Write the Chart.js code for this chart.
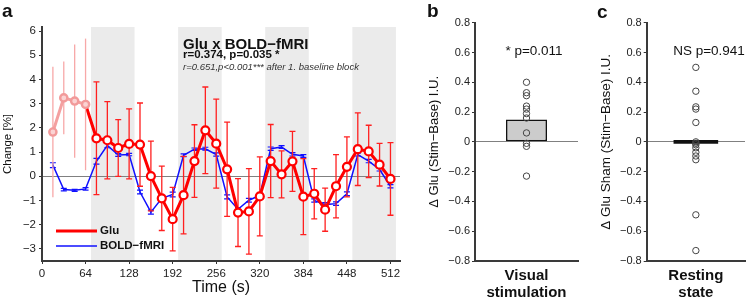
<!DOCTYPE html>
<html>
<head>
<meta charset="utf-8">
<script src="https://cdn.jsdelivr.net/npm/chart.js@4.4.0/dist/chart.umd.min.js"></script>
<style>
  body { margin: 0; background: #fff; width: 750px; height: 299px; overflow: hidden; position: relative; }
  canvas { position: absolute; top: 0; }
</style>
</head>
<body>
<canvas id="ca" width="415" height="299" style="left:0px"></canvas>
<canvas id="cb" width="170" height="299" style="left:415px"></canvas>
<canvas id="cc" width="165" height="299" style="left:585px"></canvas>
<script>
// panel a: time course, Glu (MRS) and BOLD-fMRI
const time = [16, 32, 48, 64, 80, 96, 112, 128, 144, 160, 176, 192, 208, 224, 240, 256,
              272, 288, 304, 320, 336, 352, 368, 384, 400, 416, 432, 448, 464, 480, 496, 512];
const glu = [1.83, 3.24, 3.11, 2.97, 1.57, 1.49, 1.17, 1.34, 1.31, 0.01, -0.91, -1.77, -0.78, 0.63, 1.90, 1.35,
             0.29, -1.50, -1.45, -0.83, 0.63, 0.08, 0.62, -0.84, -0.72, -1.38, -0.41, 0.39, 1.12, 1.03, 0.48, -0.11];
const gluErr = [2.70, 1.50, 2.34, 2.72, 2.33, 1.60, 1.17, 1.45, 1.72, 1.44, 1.33, 1.31, 1.60, 1.50, 1.79, 1.84,
                1.95, 1.40, 1.77, 1.63, 1.51, 0.97, 1.24, 1.57, 1.04, 0.89, 1.31, 1.24, 1.50, 1.08, 0.88, 1.50];
const bold = [0.46, -0.55, -0.58, -0.52, 0.62, 1.28, 0.88, 0.90, -0.65, -1.48, -0.91, -0.75, 0.87, 1.12, 1.14, 0.90,
              -0.85, -1.36, -0.99, -0.79, 1.14, 1.21, 0.91, 0.84, -1.00, -1.17, -1.13, -0.72, 0.90, 0.63, 0.28, -0.41];
const boldErr = [0.10, 0.05, 0.04, 0.05, 0.12, 0.10, 0.06, 0.05, 0.08, 0.08, 0.07, 0.10, 0.06, 0.05, 0.06, 0.07,
                 0.08, 0.07, 0.08, 0.08, 0.07, 0.06, 0.07, 0.06, 0.07, 0.08, 0.07, 0.08, 0.06, 0.07, 0.06, 0.07];
const stimBlocks = [[72, 136], [200, 264], [328, 392], [456, 520]];
const nBaseline = 4; // first baseline block, drawn light

// panel b / c: single-subject differences
const bLabel = 'Visual stimulation';
const bVals = [0.40, 0.33, 0.31, 0.24, 0.22, 0.19, 0.16, 0.06, -0.01, -0.03, -0.23];
const bMean = 0.15;
const cLabel = 'Resting state';
const cVals = [0.50, 0.34, 0.235, 0.22, 0.13, 0.0, -0.01, -0.02, -0.04, -0.07, -0.095, -0.12, -0.49, -0.73];
const cMean = 0.0;

const FONT = "'Liberation Sans', Arial, Helvetica, sans-serif";
Chart.defaults.font.family = FONT;
Chart.defaults.color = '#222';
Chart.defaults.animation = false;

const pts = (from, to) => time.slice(from, to).map((t, i) => ({ x: t, y: glu[from + i] }));

// error bars drawn just before each dataset's line
const errBars = {
  id: 'errBars',
  beforeDatasetDraw(chart, args) {
    const ds = chart.data.datasets[args.index];
    if (!ds.err) return;
    const { ctx, scales: { x, y } } = chart;
    ctx.save();
    ctx.strokeStyle = ds.errColor;
    ctx.lineWidth = ds.errWidth;
    ds.data.forEach((p, i) => {
      const e = ds.err[i];
      if (e == null) return;
      const px = x.getPixelForValue(p.x);
      const y1 = y.getPixelForValue(p.y + e), y2 = y.getPixelForValue(p.y - e);
      ctx.beginPath();
      ctx.moveTo(px, y1); ctx.lineTo(px, y2);
      if (ds.cap) {
        ctx.moveTo(px - ds.cap, y1); ctx.lineTo(px + ds.cap, y1);
        ctx.moveTo(px - ds.cap, y2); ctx.lineTo(px + ds.cap, y2);
      }
      ctx.stroke();
    });
    ctx.restore();
  }
};

// grey stimulation blocks
const bands = {
  id: 'bands',
  beforeDraw(chart) {
    const { ctx, chartArea: a, scales: { x } } = chart;
    ctx.save();
    ctx.fillStyle = '#ebebeb';
    stimBlocks.forEach(([s, e]) => {
      const x1 = x.getPixelForValue(s), x2 = Math.min(x.getPixelForValue(e), a.right);
      ctx.fillRect(x1, a.top, x2 - x1, a.bottom - a.top);
    });
    ctx.restore();
  }
};

const textA = {
  id: 'textA',
  afterDraw(chart) {
    const ctx = chart.ctx;
    ctx.save();
    ctx.fillStyle = '#111';
    ctx.textBaseline = 'alphabetic';
    ctx.font = 'bold 19px ' + FONT;
    ctx.fillText('a', 2, 17);
    ctx.font = 'bold 15px ' + FONT;
    ctx.fillText('Glu x BOLD\u2212fMRI', 183, 49);
    ctx.font = 'bold 11.5px ' + FONT;
    ctx.fillText('r=0.374, p=0.035 *', 183, 57.5);
    ctx.font = 'italic 9.5px ' + FONT;
    ctx.fillStyle = '#333';
    ctx.fillText('r=0.651,p<0.001*** after 1. baseline block', 183, 70);
    // legend
    ctx.lineCap = 'butt';
    ctx.strokeStyle = '#ff0000'; ctx.lineWidth = 3;
    ctx.beginPath(); ctx.moveTo(56, 231); ctx.lineTo(97, 231); ctx.stroke();
    ctx.strokeStyle = '#1010ff'; ctx.lineWidth = 1.5;
    ctx.beginPath(); ctx.moveTo(56, 246); ctx.lineTo(97, 246); ctx.stroke();
    ctx.fillStyle = '#111';
    ctx.font = 'bold 11.5px ' + FONT;
    ctx.textBaseline = 'middle';
    ctx.fillText('Glu', 100, 231);
    ctx.fillText('BOLD\u2212fMRI', 100, 246);
    ctx.restore();
  }
};

const zeroGrid = c => Math.abs(c.tick.value) < 1e-9 ? '#808080' : 'rgba(0,0,0,0)';
const fmtA = v => v < 0 ? '\u2212' + (-v) : String(v);
const fmtB = v => Math.abs(v) < 1e-9 ? '0' : (v < 0 ? '\u2212' : '') + Math.abs(v).toFixed(1);

new Chart(document.getElementById('ca'), {
  type: 'line',
  data: {
    datasets: [
      {
        label: 'Glu baseline', data: pts(0, nBaseline), order: -1,
        borderColor: '#f4a0a0', borderWidth: 3,
        pointRadius: 3.6, pointBorderWidth: 2.4, pointBorderColor: '#f29a9a', pointBackgroundColor: '#fbd3d3',
        err: gluErr.slice(0, nBaseline), errColor: '#f7a8a8', errWidth: 1.3, cap: 0
      },
      {
        label: 'Glu', data: pts(nBaseline - 1), order: 0,
        borderColor: '#ff0000', borderWidth: 3,
        pointRadius: c => c.dataIndex === 0 ? 0 : 4, pointBorderWidth: 2.2,
        pointBorderColor: '#ff0000', pointBackgroundColor: '#ffffff',
        err: [null].concat(gluErr.slice(nBaseline)), errColor: '#ff2020', errWidth: 1.3, cap: 3
      },
      {
        label: 'BOLD\u2212fMRI', data: time.map((t, i) => ({ x: t, y: bold[i] })), order: 1,
        borderColor: '#1010ff', borderWidth: 1.5, pointRadius: 0,
        err: boldErr, errColor: '#1010ff', errWidth: 1.2, cap: 3
      }
    ]
  },
  options: {
    responsive: false,
    layout: { padding: { left: 0, right: 15, top: 27, bottom: 0 } },
    plugins: { legend: { display: false }, tooltip: { enabled: false } },
    scales: {
      x: {
        type: 'linear', min: 0, max: 526,
        ticks: { stepSize: 64, includeBounds: false, maxRotation: 0, padding: 3, font: { size: 11.5 } },
        grid: { drawOnChartArea: false, tickLength: 3, color: '#333' },
        border: { display: true, color: '#3a3a3a', width: 2 },
        title: { display: true, text: 'Time (s)', color: '#111', font: { size: 16 }, padding: { top: 0, bottom: 2 } },
        afterFit: s => { s.height = 38; }
      },
      y: {
        min: -3.5, max: 6.17,
        ticks: { stepSize: 1, includeBounds: false, padding: 3, font: { size: 11.5 }, callback: fmtA },
        grid: { color: zeroGrid, tickColor: '#333', tickLength: 3, lineWidth: 1 },
        border: { display: true, color: '#3a3a3a', width: 2 },
        title: { display: true, text: 'Change [%]', color: '#111', font: { size: 11.5 }, padding: { top: 1.4, bottom: 0 } },
        afterFit: s => { s.width = 42; }
      }
    }
  },
  plugins: [bands, errBars, textA]
});

function dotPanel(id, label, vals, mean, opts) {
  const labelPlugin = {
    id: 'lbl' + id,
    afterDraw(chart) {
      const ctx = chart.ctx;
      ctx.save();
      ctx.fillStyle = '#111';
      ctx.font = 'bold 19px ' + FONT;
      ctx.textBaseline = 'alphabetic';
      ctx.fillText(opts.letter, 12, opts.letterY);
      ctx.font = '13.5px ' + FONT;
      ctx.textAlign = 'center';
      ctx.fillText(opts.pText, opts.pX, 55);
      ctx.restore();
    }
  };
  const barDs = opts.flat
    ? { type: 'bar', data: [mean], order: 1, backgroundColor: '#111', borderWidth: 0, inflateAmount: 1.8, barThickness: 41 }
    : { type: 'bar', data: [mean], order: 1, backgroundColor: '#cccccc', borderColor: '#111', borderWidth: 1.6,
        borderSkipped: false, inflateAmount: 0, barThickness: 41 };
  new Chart(document.getElementById(id), {
    type: 'bar',
    data: {
      labels: [label],
      datasets: [
        barDs,
        {
          type: 'line', data: vals.map(v => ({ x: label, y: v })), order: 0, showLine: false,
          pointRadius: 3.2, pointBorderWidth: 1, pointBorderColor: '#444', pointBackgroundColor: 'rgba(255,255,255,0)'
        }
      ]
    },
    options: {
      responsive: false,
      layout: { padding: { left: 0, right: opts.right, top: 22.7, bottom: 0 } },
      plugins: { legend: { display: false }, tooltip: { enabled: false } },
      scales: {
        x: {
          ticks: {
            padding: 6.5, font: { size: 15, weight: 'bold', lineHeight: 1.13 }, color: '#111',
            callback: (v, i) => label.split(' ')
          },
          grid: { display: false, drawTicks: false },
          border: { display: true, color: '#3a3a3a', width: 2 },
          afterFit: s => { s.height = 38; }
        },
        y: {
          min: -0.8, max: 0.8,
          ticks: { stepSize: 0.2, padding: 2, font: { size: 11 }, callback: fmtB },
          grid: { color: zeroGrid, tickColor: '#333', tickLength: 3 },
          border: { display: true, color: '#3a3a3a', width: 2 },
          title: { display: true, text: opts.yTitle, color: '#111', font: { size: opts.titleSize },
                   padding: { top: opts.titlePad, bottom: 0 } },
          afterFit: s => { s.width = opts.yWidth; }
        }
      }
    },
    plugins: [labelPlugin]
  });
}

dotPanel('cb', bLabel, bVals, bMean, {
  letter: 'b', letterY: 17, pText: '* p=0.011', pX: 119, right: 7, yWidth: 60,
  yTitle: '\u0394 Glu (Stim\u2212Base) I.U.', titleSize: 13, titlePad: 11.2, flat: false
});
dotPanel('cc', cLabel, cVals, cMean, {
  letter: 'c', letterY: 18, pText: 'NS p=0.941', pX: 124, right: 2, yWidth: 61.7,
  yTitle: '\u0394 Glu Sham (Stim\u2212Base) I.U.', titleSize: 13.5, titlePad: 12.9, flat: true
});
</script>
</body>
</html>
